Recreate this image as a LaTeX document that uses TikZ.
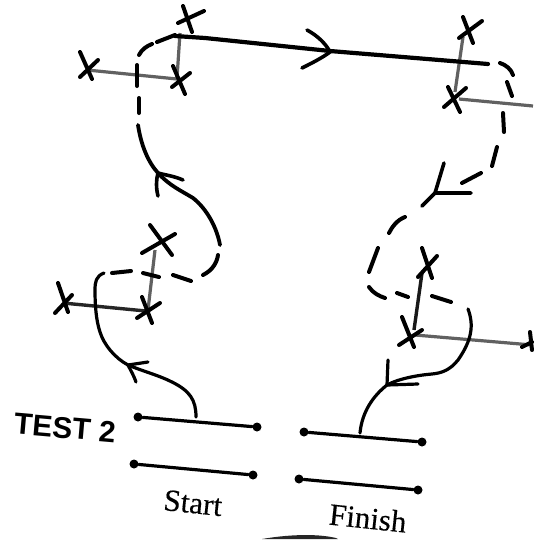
\documentclass[tikz,border=0pt]{standalone}
\usepackage{fontspec}
\setmainfont{Liberation Serif}
\newfontfamily\labfont[FakeBold=0.3]{Liberation Serif}
\newfontfamily\headfont{Liberation Sans}
\tikzset{
  pen/.style={line width=3.2pt,black,line cap=round},
  thickpen/.style={line width=4.2pt,black,line cap=round},
  dashpen/.style={line width=4pt,black,line cap=round},
  faint/.style={line width=3.2pt,black!62,line cap=butt},
  cross/.style={line width=4pt,black,line cap=round},
  endpt/.style={circle,fill=black,inner sep=0pt,minimum size=9pt},
  lab/.style={font=\labfont\fontsize{31}{33}\selectfont,rotate=-6,inner sep=0pt},
  headlab/.style={font=\headfont\bfseries\fontsize{30}{32}\selectfont,rotate=-5,inner sep=0pt}
}
\begin{document}
\begin{tikzpicture}[x=1pt,y=-1pt]
\useasboundingbox (0,0) rectangle (549,539);
% faint legs
\draw[faint] (87,70) -- (177,79);
\draw[faint] (177,78) -- (180,33);
\draw[faint] (463,37) -- (455,92);
\draw[faint] (459,99) -- (533,106);
\draw[faint] (155,250) -- (148,310);
\draw[line width=3.4pt,black!85] (63,303) -- (146,311);
\draw[line width=3.4pt,black!90] (422,273) -- (414,330);
\draw[faint] (415,335) -- (532,345);
% crosses
\draw[cross] (183,6) -- (192,32) (178,23) -- (204,11);
\draw[cross] (80,52) -- (92,79) (80,77) -- (98,60);
\draw[cross] (173,66) -- (185,94) (172,87) -- (190,73);
\draw[cross] (463,17) -- (473,43) (459,38) -- (482,21);
\draw[cross] (448,87) -- (460,112) (444,107) -- (466,88);
\draw[cross] (150,225) -- (172,255) (142,253) -- (175,234);
\draw[cross] (142,297) -- (152,323) (137,318) -- (160,303);
\draw[cross] (58,283) -- (68,312) (55,313) -- (72,295);
\draw[cross] (422,248) -- (432,278) (418,277) -- (437,256);
\draw[cross] (402,317) -- (414,347) (399,345) -- (422,330);
\draw[cross] (530,332) -- (532,350) (522,347) -- (532,342);
% top solid line
\draw[thickpen] (175,36) -- (205,38) -- (330,51) -- (488,64);
\draw[pen,line width=3.6pt] (307,30) .. controls (318,36) and (326,44) .. (330,52) .. controls (322,58) and (312,63) .. (302,68);
% dashes, upper left
\draw[dashpen] (139,55) .. controls (142,49) and (147,46) .. (152,44);
\draw[dashpen] (157,42) -- (175,35);
\draw[dashpen] (137,65) -- (137,86);
\draw[dashpen] (139,98) -- (139,113);
% curve left upper
\draw[pen,line width=3.8pt] (138,125) .. controls (141,145) and (148,162) .. (158,173) .. controls (170,186) and (180,190) .. (193,198) .. controls (207,209) and (217,228) .. (220,245);
\draw[pen,line width=3.6pt] (183,180) .. controls (174,176) and (165,175) .. (158,173) .. controls (156,180) and (156,188) .. (158,196);
% dashes left lower
\draw[dashpen] (218,255) .. controls (217,262) and (213,270) .. (203,275);
\draw[dashpen] (173,275) -- (191,281);
\draw[dashpen] (143,273) -- (159,277);
\draw[dashpen] (112,273) -- (131,271);
% curve left lower
\draw[pen] (104,273) .. controls (96,276) and (95,282) .. (95,290) .. controls (95,305) and (96,320) .. (100,332) .. controls (104,345) and (115,358) .. (128,365) .. controls (145,372) and (158,375) .. (172,382) .. controls (190,391) and (196,400) .. (196,417);
\draw[pen] (148,362) -- (128,365) .. controls (131,371) and (134,376) .. (136,382);
% bars
\coordinate (a1) at (138,417); \coordinate (a2) at (257,427);
\coordinate (b1) at (134,464); \coordinate (b2) at (253,475);
\coordinate (c1) at (304,432); \coordinate (c2) at (422,442);
\coordinate (d1) at (299,479); \coordinate (d2) at (418,490);
\node[endpt] (A1) at (a1) {}; \node[endpt] (A2) at (a2) {};
\node[endpt] (B1) at (b1) {}; \node[endpt] (B2) at (b2) {};
\node[endpt] (C1) at (c1) {}; \node[endpt] (C2) at (c2) {};
\node[endpt] (D1) at (d1) {}; \node[endpt] (D2) at (d2) {};
\draw[pen] (A1) -- (A2); \draw[pen] (B1) -- (B2);
\draw[pen] (C1) -- (C2); \draw[pen] (D1) -- (D2);
% dashes right
\draw[dashpen] (500,63) .. controls (506,65) and (511,69) .. (513,75);
\draw[dashpen] (507,82) -- (512,96);
\draw[dashpen] (503,113) -- (504,132);
\draw[dashpen] (497,147) -- (492,166);
\draw[dashpen] (481,173) -- (462,183);
\draw[pen,line width=3.6pt] (444,163) -- (435,193) -- (471,193);
\draw[pen,line width=3.6pt] (435,193) -- (422,206);
\draw[dashpen] (405,217) .. controls (397,220) and (392,227) .. (389,233);
\draw[dashpen] (378,248) -- (369,272);
\draw[dashpen] (369,287) .. controls (373,293) and (379,296) .. (385,298);
\draw[dashpen] (397,293) -- (408,297);
\draw[dashpen] (432,296) -- (451,302);
% curve right
\draw[pen] (468,309) .. controls (474,325) and (472,340) .. (458,360) .. controls (450,370) and (442,373) .. (432,374) .. controls (420,375) and (400,378) .. (387,385) .. controls (373,396) and (362,412) .. (360,433);
\draw[pen] (388,360) -- (387,385) -- (418,384);
% labels
\node[headlab] (test) at (65,428) {TEST 2};
\node[lab] (start) at (193,503) {Start};
\node[lab] (finish) at (368,518) {Finish};
% smudge at the bottom edge
\fill[black!85] (262,539) .. controls (285,535) and (315,533) .. (336,538) -- (338,539) -- cycle;
\end{tikzpicture}
\end{document}
